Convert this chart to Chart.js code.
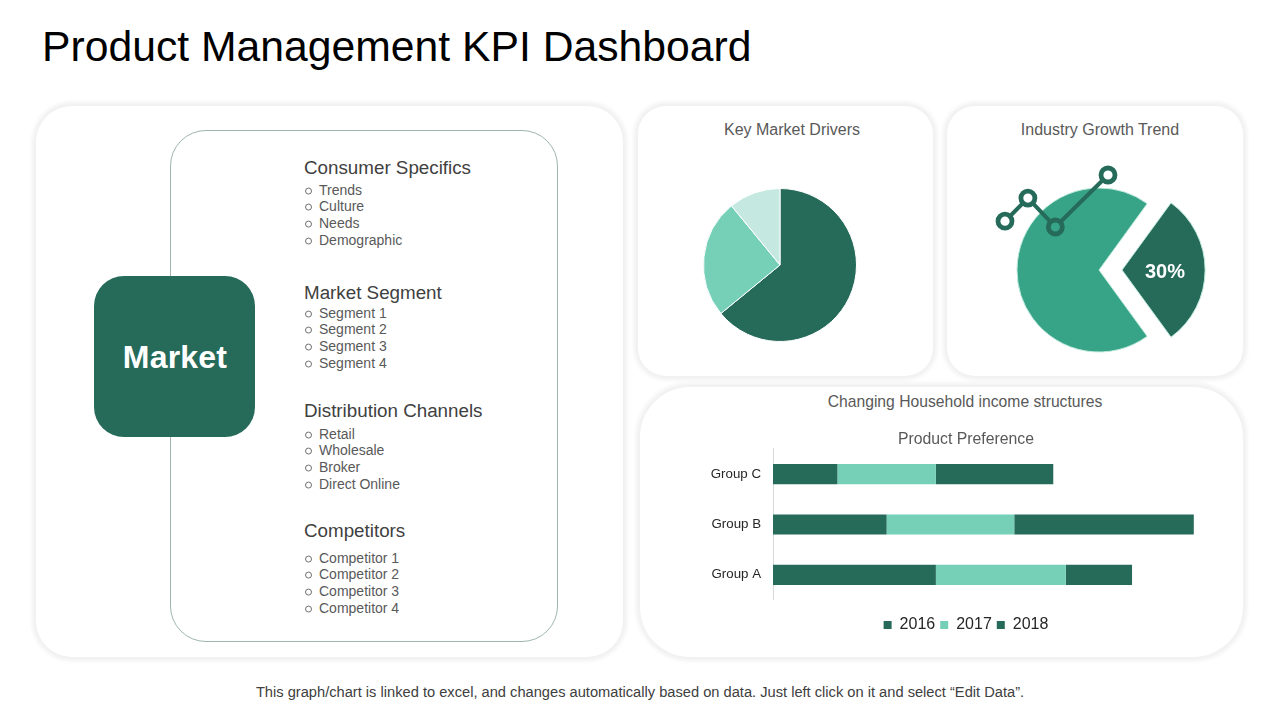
<!DOCTYPE html>
<html>
<head>
<meta charset="utf-8">
<title>Product Management KPI Dashboard</title>
<script src="https://cdn.jsdelivr.net/npm/chart.js@4"></script>
<style>
  html, body { margin: 0; padding: 0; background: #fff; }
  body { width: 1280px; height: 720px; position: relative; overflow: hidden; font-family: "Liberation Sans", Arial, sans-serif; }
  .abs { position: absolute; }
  .panel { position: absolute; background: #fff; box-shadow: 0 0 4px 4px rgba(0,0,0,.06); }
  .label { position: absolute; white-space: nowrap; transform: translate(-50%, -50%); }
  .heading { position: absolute; left: 304px; font-size: 18.8px; color: #404040; white-space: nowrap; transform: translateY(-50%); }
  .item { position: absolute; left: 319px; font-size: 14px; color: #595959; white-space: nowrap; transform: translateY(-50%); }
  .bullet { position: absolute; left: 305px; width: 5px; height: 5px; border: 1px solid #707070; border-radius: 50%; transform: translateY(-35%); }
  canvas { position: absolute; }
</style>
</head>
<body>
<div class="abs" style="left:42px;top:21px;font-size:42.7px;color:#000;white-space:nowrap;line-height:50px">Product Management KPI Dashboard</div>

<div class="panel" style="left:36px;top:106px;width:587px;height:551px;border-radius:36px"></div>
<div class="panel" style="left:638px;top:106px;width:295px;height:270px;border-radius:28px"></div>
<div class="panel" style="left:947px;top:106px;width:296px;height:270px;border-radius:28px"></div>
<div class="panel" style="left:640px;top:387px;width:603px;height:270px;border-radius:50px"></div>

<div class="abs" style="left:170px;top:130px;width:386px;height:510px;border:1px solid #9fb5ae;border-radius:36px"></div>
<div class="abs" style="left:94px;top:276px;width:161px;height:161px;border-radius:30px;background:#266b5a"></div>
<div class="label" style="left:175px;top:357px;font-size:32px;font-weight:bold;color:#fff;letter-spacing:.2px">Market</div>

<div id="lists"></div>

<div class="label" style="left:792px;top:130px;font-size:16px;color:#595959">Key Market Drivers</div>
<div class="label" style="left:1100px;top:130px;font-size:16px;color:#595959">Industry Growth Trend</div>
<div class="label" style="left:965px;top:402px;font-size:15.7px;color:#595959">Changing Household income structures</div>

<canvas id="driversChart" width="180" height="180" style="left:690px;top:175px"></canvas>
<canvas id="growthChart" width="300" height="300" style="left:949px;top:120px"></canvas>
<canvas id="trendChart" width="131" height="80" style="left:991px;top:161px"></canvas>
<canvas id="preferenceChart" width="548" height="214" style="left:692px;top:429px"></canvas>
<div class="label" id="growthLabel" style="left:1165px;top:271px;font-size:20px;font-weight:bold;color:#fff"></div>

<div class="label" style="left:640px;top:692px;font-size:14.67px;color:#404040">This graph/chart is linked to excel, and changes automatically based on data. Just left click on it and select “Edit Data”.</div>

<script>
// colours
const dark = '#266b5a';
const light = '#76d0b8';
const mid = '#37a387';
const palest = '#c5e9e0';

// left panel
const sectionTitles = ['Consumer Specifics', 'Market Segment', 'Distribution Channels', 'Competitors'];
const sectionItems = [
  ['Trends', 'Culture', 'Needs', 'Demographic'],
  ['Segment 1', 'Segment 2', 'Segment 3', 'Segment 4'],
  ['Retail', 'Wholesale', 'Broker', 'Direct Online'],
  ['Competitor 1', 'Competitor 2', 'Competitor 3', 'Competitor 4']
];
const titleRows = [168, 293, 411, 531];
const itemRows = [
  [190, 206, 223, 240],
  [313, 329, 346, 363],
  [434, 450, 467, 484],
  [558, 574, 591, 608]
];

// pie, key market drivers
const driverValues = [8.2, 3.2, 1.4];

// pie, industry growth
const growthValues = [30, 70];

// little trend line over the growth pie
const trendX = [1, 2, 3.2, 5.5];
const trendY = [2, 3, 1.75, 4];

// stacked bars
const groups = ['Group C', 'Group B', 'Group A'];
const years = ['2016', '2017', '2018'];
const values2016 = [1.7, 3.0, 4.3];
const values2017 = [2.6, 3.37, 3.43];
const values2018 = [3.1, 4.74, 1.75];

let lists = document.getElementById('lists');
sectionTitles.forEach((title, i) => {
  let h = document.createElement('div');
  h.className = 'heading';
  h.style.top = titleRows[i] + 'px';
  h.textContent = title;
  lists.appendChild(h);
  sectionItems[i].forEach((text, j) => {
    let b = document.createElement('div');
    b.className = 'bullet';
    b.style.top = itemRows[i][j] + 'px';
    lists.appendChild(b);
    let d = document.createElement('div');
    d.className = 'item';
    d.style.top = itemRows[i][j] + 'px';
    d.textContent = text;
    lists.appendChild(d);
  });
});
document.getElementById('growthLabel').textContent = growthValues[0] + '%';

Chart.defaults.font.family = '"Liberation Sans", Arial, sans-serif';
Chart.defaults.animation = false;
Chart.defaults.responsive = false;
Chart.defaults.devicePixelRatio = 1;

new Chart(document.getElementById('driversChart'), {
  type: 'pie',
  data: {
    labels: ['Dark', 'Mid', 'Pale'],
    datasets: [{
      data: driverValues,
      backgroundColor: [dark, light, palest],
      borderColor: '#fff',
      borderWidth: 1
    }]
  },
  options: {
    layout: { padding: 13 },
    plugins: { legend: { display: false }, tooltip: { enabled: false } }
  }
});

new Chart(document.getElementById('growthChart'), {
  type: 'pie',
  data: {
    labels: ['Growth', 'Rest'],
    datasets: [{
      data: growthValues,
      backgroundColor: [dark, mid],
      borderColor: '#bfe9dc',
      borderWidth: 1,
      offset: [92, 0] // the arc only moves a quarter of this
    }]
  },
  options: {
    rotation: 36,
    layout: { padding: 21.5 },
    plugins: { legend: { display: false }, tooltip: { enabled: false } }
  }
});

new Chart(document.getElementById('trendChart'), {
  type: 'scatter',
  data: {
    datasets: [{
      data: trendX.map((x, i) => ({ x: x, y: trendY[i] })),
      showLine: true,
      borderColor: dark,
      borderWidth: 4,
      pointRadius: 7,
      pointBorderWidth: 4.8,
      pointBorderColor: dark,
      pointBackgroundColor: ['#fff', '#fff', mid, '#fff'],
      clip: false
    }]
  },
  options: {
    layout: { padding: 14 },
    scales: {
      x: { display: false, min: 1, max: 5.5 },
      y: { display: false, min: 1.75, max: 4 }
    },
    plugins: { legend: { display: false }, tooltip: { enabled: false } }
  }
});

new Chart(document.getElementById('preferenceChart'), {
  type: 'bar',
  data: {
    labels: groups,
    datasets: [
      { label: years[0], data: values2016, backgroundColor: dark },
      { label: years[1], data: values2017, backgroundColor: light },
      { label: years[2], data: values2018, backgroundColor: dark }
    ]
  },
  options: {
    indexAxis: 'y',
    datasets: { bar: { barPercentage: 0.4, categoryPercentage: 1 } },
    scales: {
      x: {
        stacked: true,
        min: 0,
        max: 12.33,
        grid: { display: false },
        border: { display: false },
        ticks: { display: false },
        afterFit: (axis) => { axis.height = 12; } // gap above the legend
      },
      y: {
        stacked: true,
        grid: { display: false, drawTicks: false },
        border: { display: true, color: '#d9d9d9', width: 1 },
        ticks: { color: '#262626', font: { size: 13.3 }, padding: 12 },
        afterFit: (axis) => { axis.width = 81; }
      }
    },
    plugins: {
      title: { display: true, text: 'Product Preference', color: '#595959', font: { size: 15.8, weight: 'normal' }, padding: 0 },
      legend: {
        position: 'bottom',
        labels: { color: '#262626', font: { size: 16 }, boxWidth: 8, boxHeight: 8, padding: 5 }
      },
      tooltip: { enabled: false }
    }
  }
});
</script>
</body>
</html>
